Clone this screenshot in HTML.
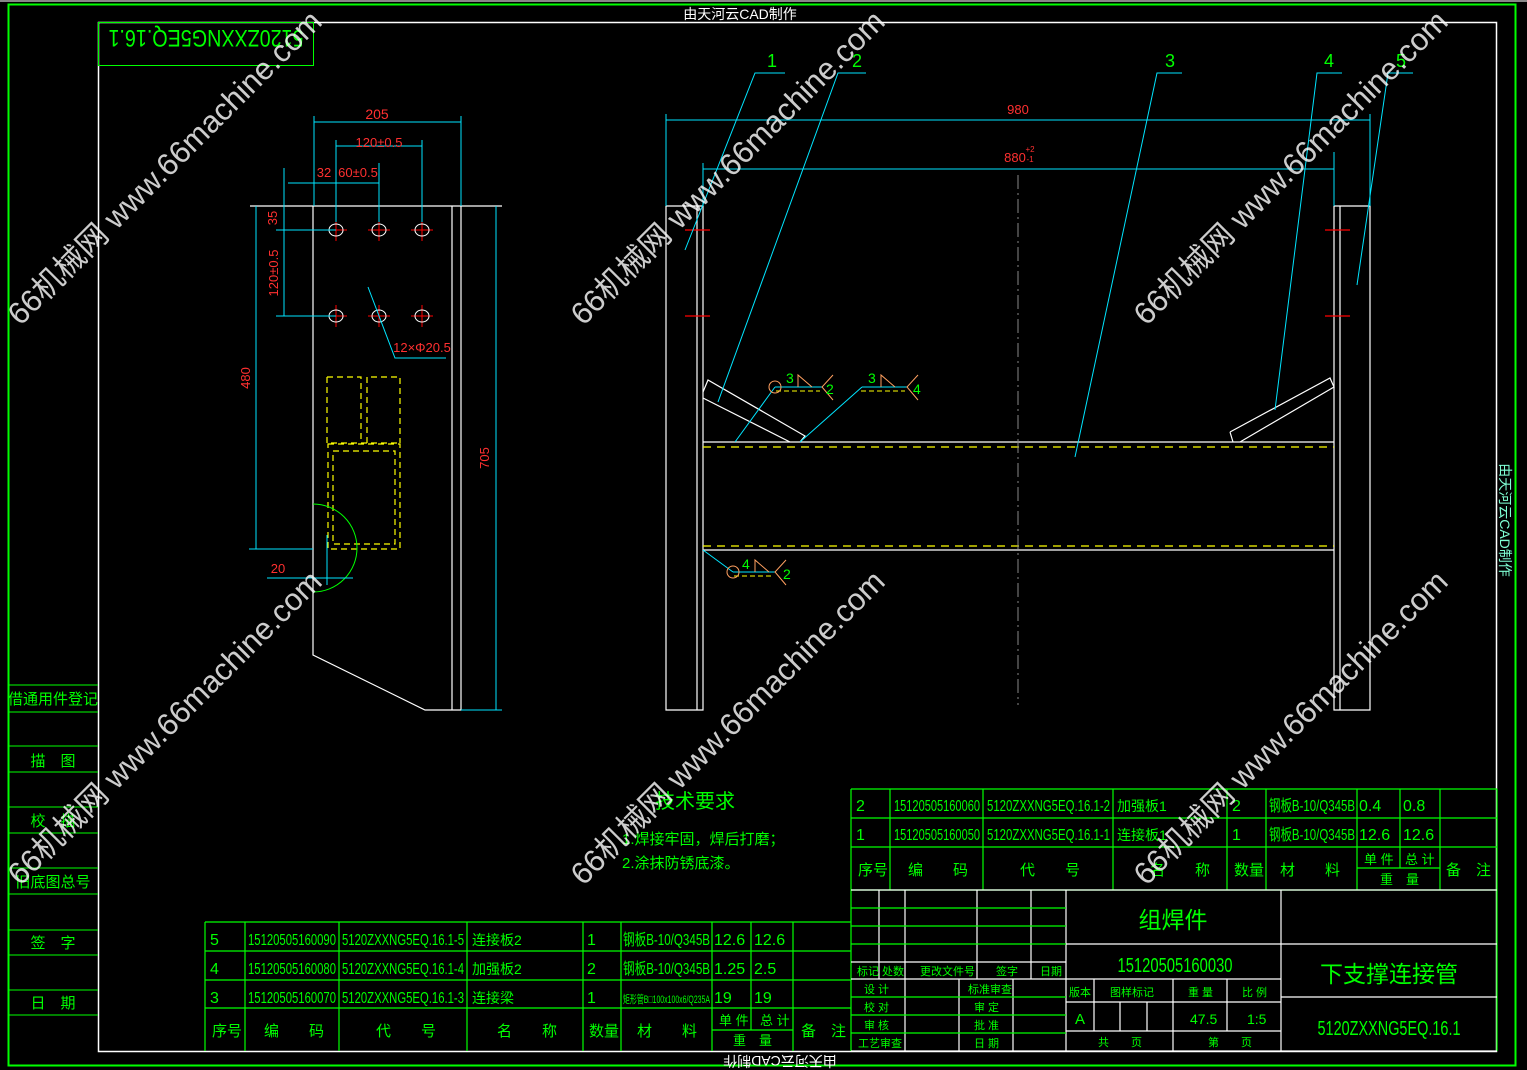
<!DOCTYPE html>
<html><head><meta charset="utf-8"><style>
html,body{margin:0;padding:0;background:#000;}
svg{display:block}
text{font-family:"Liberation Sans","Noto Sans CJK SC",sans-serif;}
</style></head><body>
<svg width="1527" height="1070" viewBox="0 0 1527 1070" xmlns="http://www.w3.org/2000/svg">
<rect width="1527" height="1070" fill="#000"/>
<rect x="0" y="0" width="1527" height="2" fill="#888"/>
<!-- frames -->
<rect x="8.5" y="4.5" width="1507" height="1061" fill="none" stroke="#00ff00" stroke-width="2"/>
<rect x="98.5" y="22.5" width="1398" height="1029" fill="none" stroke="#fff" stroke-width="1.5"/>
<text x="740" y="19" fill="#fff" font-size="14" text-anchor="middle">由天河云CAD制作</text>
<text transform="translate(1500,520) rotate(90)" fill="#7fffd4" font-size="14" text-anchor="middle">由天河云CAD制作</text>
<text transform="translate(780,1056) rotate(180)" fill="#fff" font-size="14" text-anchor="middle">由天河云CAD制作</text>
<!-- top-left box -->
<rect x="98.5" y="22.5" width="215" height="43" fill="none" stroke="#00ff00" stroke-width="1"/>
<text transform="translate(206,30) rotate(180)" fill="#00ff00" font-size="24" text-anchor="middle" textLength="195" lengthAdjust="spacingAndGlyphs">5120ZXXNG5EQ.16.1</text>

<!-- left strip -->
<g stroke="#00ff00" stroke-width="1" fill="none">
<path d="M8 685H98M8 712H98M8 746H98M8 772H98M8 807H98M8 833H98M8 868H98M8 894H98M8 930H98M8 955H98M8 990H98M8 1015H98"/>
</g>
<g fill="#00ff00" font-size="15" text-anchor="middle">
<text x="53" y="704">借通用件登记</text>
<text x="53" y="766">描　图</text>
<text x="53" y="826">校　描</text>
<text x="53" y="887">旧底图总号</text>
<text x="53" y="948">签　字</text>
<text x="53" y="1008">日　期</text>
</g>

<!-- LEFT PART DRAWING -->
<g stroke="#fff" stroke-width="1.2" fill="none">
<path d="M313 206V655L425 710H461V206M452 206V710M250 206H502"/>
</g>
<g stroke="#ff0000" stroke-width="1">
<path d="M325 230h22M336 219v22M368 230h22M379 219v22M411 230h22M422 219v22M325 316h22M336 305v22M368 316h22M379 305v22M411 316h22M422 305v22"/>
</g>
<g stroke="#fff" stroke-width="1" fill="none">
<ellipse cx="336" cy="230" rx="7" ry="6"/><ellipse cx="379" cy="230" rx="7" ry="6"/><ellipse cx="422" cy="230" rx="7" ry="6"/>
<ellipse cx="336" cy="316" rx="7" ry="6"/><ellipse cx="379" cy="316" rx="7" ry="6"/><ellipse cx="422" cy="316" rx="7" ry="6"/>
</g>
<g stroke="#ffff00" stroke-width="1.2" fill="none" stroke-dasharray="6,4">
<path d="M327 377H361V443M367 443V377H400V443M327 377V443H400"/>
<path d="M328 444H400V549H328ZM333 451H395V544H333Z"/>
</g>
<path d="M313 504A44 44 0 0 1 313 592" stroke="#00ff00" fill="none" stroke-width="1"/>
<g stroke="#00e5ff" stroke-width="1" fill="none">
<path d="M314 122H461M314 116V206M461 116V206"/>
<path d="M336 146H422M336 140V222M422 140V222"/>
<path d="M288 183H379M379 163V222"/>
<path d="M284 168V316M276 230H336M276 316H336"/>
<path d="M256 206V549M249 549H313"/>
<path d="M496 206V710M461 710H502"/>
<path d="M267 578H353M327 535V585"/>
<path d="M368 287L395 358H446"/>
</g>
<g fill="#ff3030" font-size="14">
<text x="377" y="119" text-anchor="middle">205</text>
<text x="379" y="147" text-anchor="middle" font-size="13">120±0.5</text>
<text x="324" y="177" text-anchor="middle" font-size="13">32</text>
<text x="358" y="177" text-anchor="middle" font-size="13">60±0.5</text>
<text transform="translate(277,218) rotate(-90)" text-anchor="middle" font-size="13">35</text>
<text transform="translate(278,273) rotate(-90)" text-anchor="middle" font-size="13">120±0.5</text>
<text transform="translate(250,378) rotate(-90)" text-anchor="middle" font-size="13">480</text>
<text transform="translate(489,458) rotate(-90)" text-anchor="middle" font-size="13">705</text>
<text x="278" y="573" text-anchor="middle" font-size="13">20</text>
<text x="422" y="352" text-anchor="middle" font-size="13">12×Φ20.5</text>
</g>

<!-- RIGHT ASSEMBLY DRAWING -->
<g stroke="#fff" stroke-width="1.2" fill="none">
<path d="M666 206V710H703V206H666M697 206V710"/>
<path d="M1334 206V710H1370V206H1334M1340 206V710"/>
<path d="M703 442H1334M703 550H1334"/>
<path d="M703 392L708 380L805 436L800 442M703 398L790 442"/>
<path d="M1230 432L1233 442M1230 432L1330 378L1334 387L1240 442"/>
</g>
<g stroke="#ffff00" stroke-width="1.2" stroke-dasharray="8,6">
<path d="M703 447H1334M703 546H1334"/>
</g>
<path d="M1018 175V705" stroke="#888" stroke-width="1" stroke-dasharray="14,4,2,4"/>
<g stroke="#ff0000" stroke-width="1.2"><path d="M685 230h25M685 316h25M1325 230h25M1325 316h25"/></g>
<g stroke="#00e5ff" stroke-width="1" fill="none">
<path d="M666 120H1370M666 114V206M1370 114V206"/>
<path d="M703 169H1334M703 163V206M1334 152V206"/>
<path d="M785 73H755L685 250"/>
<path d="M866 73H838L718 402"/>
<path d="M1182 73H1157L1075 457"/>
<path d="M1342 73H1317L1275 410"/>
<path d="M1413 73H1388L1357 285"/>
<path d="M775 387L735 442M862 387L800 442M733 572L703 550"/>
<path d="M775 387H822M862 387H907M733 572H775"/>
</g>
<g stroke="#ffff00" stroke-width="1" stroke-dasharray="5,3"><path d="M776 391H820M861 391H905M734 576H774"/></g>
<g stroke="#ffa060" stroke-width="1" fill="none">
<circle cx="775" cy="387" r="6"/><circle cx="733" cy="572" r="6"/>
<path d="M798 387L798 375L812 387M881 387L881 375L895 387M755 572L755 560L769 572"/>
<path d="M833 375L822 387L833 400M918 375L907 387L918 400M786 560L775 572L786 585"/>
</g>
<g fill="#00ff00" font-size="14">
<text x="767" y="67" font-size="18">1</text><text x="852" y="67" font-size="18">2</text>
<text x="1165" y="67" font-size="18">3</text><text x="1324" y="67" font-size="18">4</text><text x="1396" y="67" font-size="18">5</text>
<text x="786" y="383">3</text><text x="826" y="394">2</text>
<text x="868" y="383">3</text><text x="913" y="394">4</text>
<text x="742" y="569">4</text><text x="783" y="579">2</text>
</g>
<g fill="#ff3030" font-size="13" text-anchor="middle">
<text x="1018" y="114">980</text><text x="1015" y="162">880</text>
<text x="1030" y="152" font-size="8">+2</text><text x="1030" y="162" font-size="8">-1</text>
</g>

<!-- tech requirements -->
<g fill="#00ff00">
<text x="655" y="808" font-size="20">技术要求</text>
<text x="622" y="844" font-size="15">1.焊接牢固，焊后打磨；</text>
<text x="622" y="868" font-size="15">2.涂抹防锈底漆。</text>
</g>

<!-- upper right parts table -->
<g stroke="#00ff00" stroke-width="1.2" fill="none">
<path d="M851 789H1497M851 818H1497M851 847H1497M851 890H1497M1357 868H1440"/>
<path d="M851 789V1051M890 789V890M983 789V890M1113 789V890M1227 789V890M1266 789V890M1357 789V890M1400 789V868M1440 789V890M1497 789V1051"/>
</g>
<g fill="#00ff00" font-size="16">
<text x="856" y="811">2</text><text x="894" y="811" textLength="86" lengthAdjust="spacingAndGlyphs">15120505160060</text>
<text x="987" y="811" textLength="123" lengthAdjust="spacingAndGlyphs">5120ZXXNG5EQ.16.1-2</text>
<text x="1117" y="811" font-size="14">加强板1</text><text x="1232" y="811">2</text>
<text x="1269" y="811" textLength="86" lengthAdjust="spacingAndGlyphs">钢板B-10/Q345B</text><text x="1359" y="811">0.4</text><text x="1403" y="811">0.8</text>
<text x="856" y="840">1</text><text x="894" y="840" textLength="86" lengthAdjust="spacingAndGlyphs">15120505160050</text>
<text x="987" y="840" textLength="123" lengthAdjust="spacingAndGlyphs">5120ZXXNG5EQ.16.1-1</text>
<text x="1117" y="840" font-size="14">连接板1</text><text x="1232" y="840">1</text>
<text x="1269" y="840" textLength="86" lengthAdjust="spacingAndGlyphs">钢板B-10/Q345B</text><text x="1359" y="840">12.6</text><text x="1403" y="840">12.6</text>
<text x="858" y="875" font-size="15">序号</text><text x="908" y="875" font-size="15">编　　码</text><text x="1020" y="875" font-size="15">代　　号</text>
<text x="1150" y="875" font-size="15">名　　称</text><text x="1234" y="875" font-size="15">数量</text><text x="1280" y="875" font-size="15">材　　料</text>
<text x="1364" y="864" font-size="13">单 件</text><text x="1405" y="864" font-size="13">总 计</text><text x="1380" y="884" font-size="13">重　量</text>
<text x="1446" y="875" font-size="15">备　注</text>
</g>

<!-- title block lower -->
<g stroke="#fff" stroke-width="1.2" fill="none">
<path d="M851 890H1497M851 1051H1497"/>
<path d="M1066 890V1051M1281 890V1051M1281 944H1497M1281 997H1497M1066 944H1281M1066 979H1281M1066 1002H1281M1066 1031H1281"/>
<path d="M1094 979V1031M1173 979V1051M1227 979V1031M1120 1002V1031M1147 1002V1031"/>
<path d="M851 962H1066M851 979H1066M879 890V979M905 890V1051M977 890V979M1031 890V979M959 979V1051M1013 979V1051"/>
</g>
<g stroke="#00ff00" stroke-width="1.2" fill="none">
<path d="M851 908H1066M851 926H1066M851 944H1066M851 997H1066M851 1015H1066M851 1033H1066"/>
</g>
<g fill="#00ff00" font-size="11">
<text x="857" y="975">标记</text><text x="882" y="975">处数</text><text x="920" y="975">更改文件号</text><text x="996" y="975">签字</text><text x="1040" y="975">日期</text>
<text x="864" y="993">设 计</text><text x="968" y="993">标准审查</text>
<text x="864" y="1011">校 对</text><text x="974" y="1011">审 定</text>
<text x="864" y="1029">审 核</text><text x="974" y="1029">批 准</text>
<text x="858" y="1047">工艺审查</text><text x="974" y="1047">日 期</text>
<text x="1069" y="996">版本</text><text x="1110" y="996">图样标记</text><text x="1188" y="996">重 量</text><text x="1242" y="996">比 例</text>
<text x="1075" y="1024" font-size="15">A</text><text x="1190" y="1024" font-size="14">47.5</text><text x="1247" y="1024" font-size="14">1:5</text>
<text x="1098" y="1046">共　　页</text><text x="1208" y="1046">第　　页</text>
<text x="1173" y="928" font-size="23" text-anchor="middle">组焊件</text>
<text x="1175" y="972" font-size="20" text-anchor="middle" textLength="115" lengthAdjust="spacingAndGlyphs">15120505160030</text>
<text x="1389" y="982" font-size="23" text-anchor="middle">下支撑连接管</text>
<text x="1389" y="1035" font-size="20" text-anchor="middle" textLength="143" lengthAdjust="spacingAndGlyphs">5120ZXXNG5EQ.16.1</text>
</g>

<!-- lower parts table -->
<g stroke="#00ff00" stroke-width="1.2" fill="none">
<path d="M205 922H851M205 951H851M205 980H851M205 1008H851M712 1030H793"/>
<path d="M205 922V1051M245 922V1051M339 922V1051M467 922V1051M583 922V1051M621 922V1051M712 922V1051M751 922V1030M793 922V1051"/>
</g>
<g fill="#00ff00" font-size="16">
<text x="210" y="945">5</text><text x="248" y="945" textLength="88" lengthAdjust="spacingAndGlyphs">15120505160090</text>
<text x="342" y="945" textLength="122" lengthAdjust="spacingAndGlyphs">5120ZXXNG5EQ.16.1-5</text>
<text x="472" y="945" font-size="14">连接板2</text><text x="587" y="945">1</text>
<text x="623" y="945" textLength="87" lengthAdjust="spacingAndGlyphs">钢板B-10/Q345B</text><text x="714" y="945">12.6</text><text x="754" y="945">12.6</text>
<text x="210" y="974">4</text><text x="248" y="974" textLength="88" lengthAdjust="spacingAndGlyphs">15120505160080</text>
<text x="342" y="974" textLength="122" lengthAdjust="spacingAndGlyphs">5120ZXXNG5EQ.16.1-4</text>
<text x="472" y="974" font-size="14">加强板2</text><text x="587" y="974">2</text>
<text x="623" y="974" textLength="87" lengthAdjust="spacingAndGlyphs">钢板B-10/Q345B</text><text x="714" y="974">1.25</text><text x="754" y="974">2.5</text>
<text x="210" y="1003">3</text><text x="248" y="1003" textLength="88" lengthAdjust="spacingAndGlyphs">15120505160070</text>
<text x="342" y="1003" textLength="122" lengthAdjust="spacingAndGlyphs">5120ZXXNG5EQ.16.1-3</text>
<text x="472" y="1003" font-size="14">连接梁</text><text x="587" y="1003">1</text>
<text x="623" y="1003" font-size="11" textLength="87" lengthAdjust="spacingAndGlyphs">矩形管B□100x100x6/Q235A</text><text x="714" y="1003">19</text><text x="754" y="1003">19</text>
<text x="212" y="1036" font-size="15">序号</text><text x="264" y="1036" font-size="15">编　　码</text><text x="376" y="1036" font-size="15">代　　号</text>
<text x="497" y="1036" font-size="15">名　　称</text><text x="589" y="1036" font-size="15">数量</text><text x="637" y="1036" font-size="15">材　　料</text>
<text x="719" y="1025" font-size="13">单 件</text><text x="760" y="1025" font-size="13">总 计</text><text x="733" y="1045" font-size="13">重　量</text>
<text x="801" y="1036" font-size="15">备　注</text>
</g>

<!-- watermarks -->
<g fill="#ffffff" fill-opacity="0.8" font-size="31" text-anchor="middle">
<text transform="translate(172,175) rotate(-45)">66机械网 www.66machine.com</text>
<text transform="translate(735,175) rotate(-45)">66机械网 www.66machine.com</text>
<text transform="translate(1298,175) rotate(-45)">66机械网 www.66machine.com</text>
<text transform="translate(172,735) rotate(-45)">66机械网 www.66machine.com</text>
<text transform="translate(735,735) rotate(-45)">66机械网 www.66machine.com</text>
<text transform="translate(1298,735) rotate(-45)">66机械网 www.66machine.com</text>
</g>
</svg>
</body></html>
